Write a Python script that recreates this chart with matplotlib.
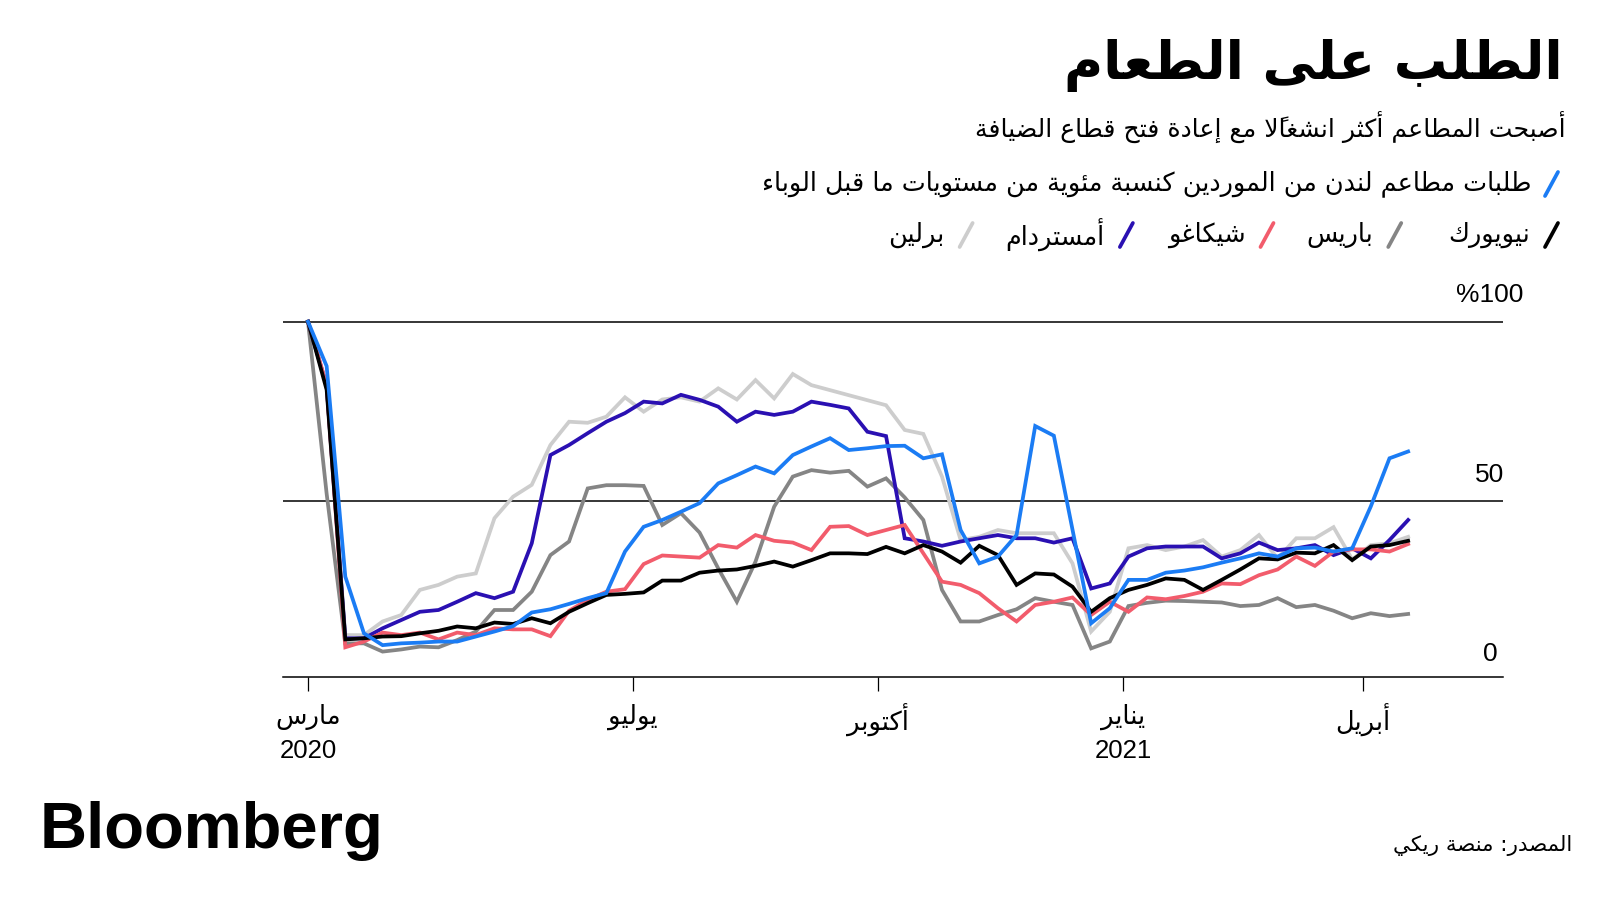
import numpy as np
import pandas as pd
import matplotlib
matplotlib.use("Agg")
import matplotlib.pyplot as plt
import matplotlib.dates as mdates
import matplotlib.transforms as mtransforms
from matplotlib.lines import Line2D

# ---------------- data ----------------
start_date = "2020-03-01"
n_weeks = 60

london = [100, 87.6, 28.9, 13.1, 9.8, 10.3, 10.5, 10.8, 10.8, 12.2, 13.6, 15.1, 18.9, 19.8, 21.3,
          22.9, 24.3, 35.9, 42.8, 44.7, 47.0, 49.4, 54.9, 57.2, 59.6, 57.7, 62.8, 65.2, 67.5, 64.2,
          64.7, 65.3, 65.4, 61.9, 63.0, 41.9, 32.6, 34.5, 40.5, 70.9, 68.2, 42.0, 15.9, 20.1, 28.0,
          28.0, 30.0, 30.6, 31.5, 32.8, 34.0, 35.4, 34.5, 36.8, 37.0, 35.9, 36.8, 48.5, 61.9, 63.8]
new_york = [100, 81, 11.4, 11.7, 12.2, 12.3, 13.1, 13.8, 15.0, 14.5, 16.1, 15.7, 17.3, 15.9, 19.1,
            21.5, 23.8, 24.1, 24.5, 27.8, 27.8, 30.0, 30.6, 30.9, 31.9, 33.1, 31.7, 33.5, 35.4, 35.4,
            35.2, 37.2, 35.4, 37.7, 35.9, 32.8, 37.5, 34.9, 26.6, 29.8, 29.5, 26.1, 19.1, 22.9, 25.2,
            26.6, 28.4, 28.0, 25.2, 28.0, 30.9, 34.0, 33.7, 35.6, 35.4, 37.7, 33.5, 37.3, 37.7, 38.9]
paris = [100, 52, 10.3, 10.3, 8.0, 8.6, 9.4, 9.2, 11.2, 13.6, 19.6, 19.6, 24.7, 34.9, 38.7,
         53.5, 54.4, 54.4, 54.2, 43.3, 46.6, 41.2, 31.2, 21.9, 33.1, 48.4, 56.8, 58.6, 57.9, 58.4,
         54.0, 56.3, 51.0, 44.7, 25.2, 16.4, 16.4, 18.2, 19.8, 22.9, 21.9, 21.0, 8.9, 10.8, 20.7,
         21.6, 22.2, 22.1, 21.9, 21.7, 20.7, 21.0, 22.9, 20.4, 21.0, 19.4, 17.3, 18.7, 17.9, 18.5]
chicago = [100, 82.3, 9.2, 10.8, 13.3, 12.6, 13.3, 11.4, 13.3, 12.6, 14.5, 14.2, 14.2, 12.3, 19.4,
           22.4, 24.7, 25.4, 32.4, 34.8, 34.5, 34.2, 37.7, 37.0, 40.5, 38.9, 38.4, 36.3, 42.8, 43.0,
           40.5, 41.9, 43.3, 35.4, 27.5, 26.6, 24.3, 20.1, 16.4, 21.0, 21.9, 23.1, 18.2, 21.9, 19.1,
           23.1, 22.6, 23.5, 24.7, 27.0, 26.8, 29.3, 30.9, 34.5, 31.9, 35.9, 36.5, 36.5, 35.9, 38.0]
amsterdam = [100, 82, 11.7, 11.7, 14.5, 16.8, 19.1, 19.6, 21.9, 24.3, 22.9, 24.7, 38.2, 62.8, 65.6,
             68.9, 72.1, 74.5, 77.7, 77.2, 79.6, 78.2, 76.3, 72.1, 74.9, 74.0, 74.9, 77.7, 76.8, 75.8,
             69.3, 68.1, 39.6, 38.7, 37.5, 38.7, 39.6, 40.5, 39.6, 39.6, 38.4, 39.6, 25.6, 27.0, 34.5,
             36.8, 37.3, 37.3, 37.3, 34.0, 35.4, 38.4, 36.3, 36.8, 37.7, 34.9, 36.8, 34.0, 39.1, 44.7]
berlin = [100, 82.3, 12.6, 12.6, 16.4, 18.2, 25.2, 26.6, 28.9, 29.8, 45.2, 51.2, 54.5, 65.6, 72.1,
          71.8, 73.5, 78.9, 74.9, 78.3, 78.9, 77.7, 81.4, 78.3, 83.7, 78.6, 85.4, 82.3, 80.9, 79.5,
          78.1, 76.7, 69.8, 68.7, 56.8, 39.1, 40.0, 41.9, 41.0, 41.0, 41.0, 32.6, 13.6, 19.1, 36.8,
          37.7, 36.3, 37.3, 39.1, 34.5, 36.3, 40.5, 34.0, 39.6, 39.6, 42.7, 33.7, 37.7, 38.2, 40.0]

series_names = ["لندن", "نيويورك", "باريس", "شيكاغو", "أمستردام", "برلين"]
legend_main = "طلبات مطاعم لندن من الموردين كنسبة مئوية من مستويات ما قبل الوباء"
legend_cities = ["نيويورك", "باريس", "شيكاغو", "أمستردام", "برلين"]

x_tick_dates = ["2020-03-01", "2020-07-01", "2020-10-01", "2021-01-01", "2021-04-01"]
x_tick_labels = ["مارس\n2020", "يوليو", "أكتوبر", "يناير\n2021", "أبريل"]
y_ticks = [100, 50, 0]
y_tick_labels = ["%100", "50", "0"]

title = "الطلب على الطعام"
subtitle = "أصبحت المطاعم أكثر انشغالاً مع إعادة فتح قطاع الضيافة"
source = "المصدر: منصة ريكي"

# ---------------- minimal Arabic shaping ----------------
_DUAL = {0x0626: 0xFE89, 0x0628: 0xFE8F, 0x062A: 0xFE95, 0x062B: 0xFE99, 0x062C: 0xFE9D,
         0x062D: 0xFEA1, 0x062E: 0xFEA5, 0x0633: 0xFEB1, 0x0634: 0xFEB5, 0x0635: 0xFEB9,
         0x0636: 0xFEBD, 0x0637: 0xFEC1, 0x0638: 0xFEC5, 0x0639: 0xFEC9, 0x063A: 0xFECD,
         0x0641: 0xFED1, 0x0642: 0xFED5, 0x0643: 0xFED9, 0x0644: 0xFEDD, 0x0645: 0xFEE1,
         0x0646: 0xFEE5, 0x0647: 0xFEE9, 0x064A: 0xFEF1}
_RIGHT = {0x0622: 0xFE81, 0x0623: 0xFE83, 0x0624: 0xFE85, 0x0625: 0xFE87, 0x0627: 0xFE8D,
          0x0629: 0xFE93, 0x062F: 0xFEA9, 0x0630: 0xFEAB, 0x0631: 0xFEAD, 0x0632: 0xFEAF,
          0x0648: 0xFEED, 0x0649: 0xFEEF}
_NONJ = {0x0621: 0xFE80}
_LAMALEF = {0x0622: 0xFEF5, 0x0623: 0xFEF7, 0x0625: 0xFEF9, 0x0627: 0xFEFB}


def _is_mark(c):
    o = ord(c)
    return 0x064B <= o <= 0x0652 or o == 0x0670


def _shape_line(s):
    units = []
    i = 0
    while i < len(s):
        c = s[i]
        o = ord(c)
        if _is_mark(c) and units:
            units[-1][2].append(c)
            i += 1
            continue
        if o == 0x0644 and i + 1 < len(s) and ord(s[i + 1]) in _LAMALEF:
            units.append(["LA", ord(s[i + 1]), []])
            i += 2
            continue
        if o in _DUAL:
            units.append(["D", o, []])
        elif o in _RIGHT:
            units.append(["R", o, []])
        elif o in _NONJ:
            units.append(["N", o, []])
        else:
            units.append(["X", c, []])
        i += 1
    clusters = []
    for k, (kind, o, marks) in enumerate(units):
        if kind == "X":
            clusters.append((o + "".join(marks), o.isascii() and o.isalnum()))
            continue
        prev = units[k - 1][0] if k > 0 else None
        nxt = units[k + 1][0] if k + 1 < len(units) else None
        pj = prev == "D"
        nj = kind == "D" and nxt in ("D", "R", "LA")
        if kind == "LA":
            g = _LAMALEF[o] + (1 if pj else 0)
        elif kind == "N":
            g = _NONJ[o]
        elif kind == "R":
            g = _RIGHT[o] + (1 if pj else 0)
        else:
            b = _DUAL[o]
            g = b + 3 if (pj and nj) else b + 1 if pj else b + 2 if nj else b
        clusters.append((chr(g) + "".join(marks), False))
    segs = []
    for txt, ltr in clusters:
        if ltr and segs and segs[-1][1]:
            segs[-1][0] += txt
        else:
            segs.append([txt, ltr])
    return "".join(t for t, _ in reversed(segs))


def ar(s):
    return "\n".join(_shape_line(line) for line in s.split("\n"))


# ---------------- figure ----------------
plt.rcParams["font.family"] = ["DejaVu Sans"]
W, H = 1600, 900
fig = plt.figure(figsize=(16, 9), dpi=100)
fig.patch.set_facecolor("white")


def fx(x):
    return x / W


def fy(y):
    return 1 - y / H


ax_left, ax_right, ax_top, ax_bottom = 282.7, 1502.7, 285.8, 676.7
ax = fig.add_axes([fx(ax_left), fy(ax_bottom), (ax_right - ax_left) / W, (ax_bottom - ax_top) / H])

dates = pd.date_range(start_date, periods=n_weeks, freq="7D")
base = pd.Timestamp("2020-03-01")
ax.set_xlim(mdates.date2num(base - pd.Timedelta(days=9.5)), mdates.date2num(base + pd.Timedelta(days=448.5)))
ax.set_ylim(1, 110)

colors = ["#1b7cf4", "#000000", "#858585", "#f25c6c", "#2a10b2", "#cdcdcd"]
series = [london, new_york, paris, chicago, amsterdam, berlin]
order = [5, 2, 4, 3, 1, 0]
for z, idx in enumerate(order):
    ax.plot(dates, series[idx], color=colors[idx], lw=2.7, solid_joinstyle="miter",
            zorder=3 + z, clip_on=False)

for v in [100, 50]:
    ax.axhline(v, color="black", lw=1.1, zorder=2)

for s in ["top", "right", "left"]:
    ax.spines[s].set_visible(False)
ax.spines["bottom"].set_linewidth(1.1)
ax.set_yticks([])
ax.set_xticks([mdates.date2num(pd.Timestamp(d)) for d in x_tick_dates])
ax.tick_params(axis="x", length=10, width=0.9, direction="out", labelbottom=False)

num_font = ["Liberation Sans", "DejaVu Sans"]
tr_x = mtransforms.blended_transform_factory(ax.transData, fig.transFigure)
for d, lab in zip(x_tick_dates, x_tick_labels):
    ax.text(mdates.date2num(pd.Timestamp(d)), fy(704), ar(lab), transform=tr_x, ha="center",
            va="top", fontsize=18.5, family=num_font, linespacing=1.45, multialignment="center")

tr_y = mtransforms.blended_transform_factory(ax.transAxes, ax.transData)
for v, lab in zip(y_ticks, y_tick_labels):
    ax.text(0.9896, v + 7.3, lab, transform=tr_y, ha="center", va="center", fontsize=19,
            family=num_font, clip_on=False)

# ---------------- header ----------------
fig.text(fx(1563), fy(79), ar(title), ha="right", va="baseline", fontsize=38.5, fontweight="bold")
fig.text(fx(1566), fy(137), ar(subtitle), ha="right", va="baseline", fontsize=18.1)

renderer = fig.canvas.get_renderer()


def slash(xr, yc, color):
    fig.add_artist(Line2D([fx(xr - 16), fx(xr - 3)], [fy(yc + 12), fy(yc - 12)],
                          transform=fig.transFigure, color=color, lw=2.7, solid_capstyle="round"))


legend_font = 18.4
yc1 = 184
slash(1561, yc1, colors[0])
fig.text(fx(1531), fy(yc1), ar(legend_main), ha="right", va="center", fontsize=legend_font)

yc2 = 235
x = 1561
gaps = [44, 30, 32, 30]
for k, (lab, col) in enumerate(zip(legend_cities, colors[1:])):
    slash(x, yc2, col)
    x -= 31
    t = fig.text(fx(x), fy(yc2), ar(lab), ha="right", va="center", fontsize=legend_font)
    w = t.get_window_extent(renderer).width
    if k < len(gaps):
        x -= w + gaps[k]

# ---------------- footer ----------------
fig.text(fx(40), fy(848), "Bloomberg", ha="left", va="baseline", fontsize=47, fontweight="bold",
         family=["Liberation Sans", "DejaVu Sans"])
fig.text(fx(1572), fy(851), ar(source), ha="right", va="baseline", fontsize=15.4)

fig.savefig("out.png", dpi=100, facecolor="white")
